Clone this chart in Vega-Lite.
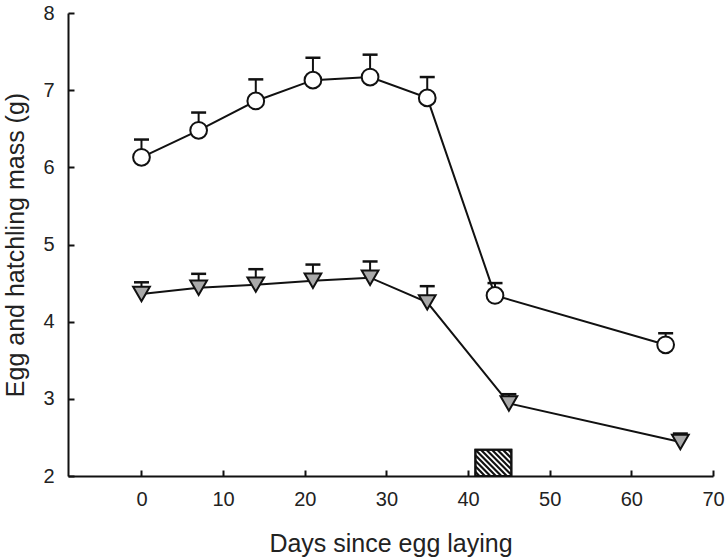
{
  "$schema": "https://vega.github.io/schema/vega-lite/v6.json",
  "width": 645,
  "height": 463,
  "autosize": "none",
  "padding": {"left": 68, "top": 13, "right": 13, "bottom": 84},
  "background": "white",
  "config": {
    "view": {"stroke": null},
    "font": "Liberation Sans",
    "axis": {
      "grid": false,
      "domainColor": "#111111",
      "domainWidth": 2,
      "tickColor": "#111111",
      "tickWidth": 2,
      "tickSize": -6,
      "labelFlush": false,
      "labelFont": "Liberation Sans",
      "labelFontSize": 20,
      "labelColor": "#222222",
      "titleFont": "Liberation Sans",
      "titleFontSize": 25,
      "titleFontWeight": "normal",
      "titleColor": "#222222"
    }
  },
  "datasets": {
    "pts": [
      {"series": "egg", "day": 0, "mass": 6.13, "upper": 6.36},
      {"series": "egg", "day": 7, "mass": 6.48, "upper": 6.71},
      {"series": "egg", "day": 14, "mass": 6.86, "upper": 7.14},
      {"series": "egg", "day": 21, "mass": 7.13, "upper": 7.42},
      {"series": "egg", "day": 28, "mass": 7.17, "upper": 7.46},
      {"series": "egg", "day": 35, "mass": 6.9, "upper": 7.17},
      {"series": "egg", "day": 43.3, "mass": 4.34, "upper": 4.5},
      {"series": "egg", "day": 64.2, "mass": 3.7, "upper": 3.85},
      {"series": "hatchling", "day": 0, "mass": 4.36, "upper": 4.51},
      {"series": "hatchling", "day": 7, "mass": 4.44, "upper": 4.62},
      {"series": "hatchling", "day": 14, "mass": 4.48, "upper": 4.68},
      {"series": "hatchling", "day": 21, "mass": 4.53, "upper": 4.74},
      {"series": "hatchling", "day": 28, "mass": 4.57, "upper": 4.78},
      {"series": "hatchling", "day": 35, "mass": 4.25, "upper": 4.46},
      {"series": "hatchling", "day": 45, "mass": 2.94, "upper": 3.06},
      {"series": "hatchling", "day": 66, "mass": 2.44, "upper": 2.55}
    ],
    "box": [
      {"start": 40.9, "end": 45.3, "low": 2.0, "high": 2.34}
    ],
    "hatch": [
      {"xa": 40.9, "ya": 2.054, "xb": 41.39, "yb": 2.0},
      {"xa": 40.9, "ya": 2.126, "xb": 42.06, "yb": 2.0},
      {"xa": 40.9, "ya": 2.197, "xb": 42.73, "yb": 2.0},
      {"xa": 40.9, "ya": 2.269, "xb": 43.41, "yb": 2.0},
      {"xa": 40.9, "ya": 2.34, "xb": 44.08, "yb": 2.0},
      {"xa": 41.57, "ya": 2.34, "xb": 44.75, "yb": 2.0},
      {"xa": 42.25, "ya": 2.34, "xb": 45.3, "yb": 2.015},
      {"xa": 42.92, "ya": 2.34, "xb": 45.3, "yb": 2.087},
      {"xa": 43.59, "ya": 2.34, "xb": 45.3, "yb": 2.158},
      {"xa": 44.26, "ya": 2.34, "xb": 45.3, "yb": 2.23},
      {"xa": 44.94, "ya": 2.34, "xb": 45.3, "yb": 2.301}
    ]
  },
  "layer": [
    {
      "data": {"name": "box"},
      "mark": {"type": "rect", "fill": "white", "stroke": "#111111", "strokeWidth": 2},
      "encoding": {
        "x": {"field": "start", "type": "quantitative", "scale": {"domain": [-9, 70], "nice": false, "zero": false},
              "axis": {"values": [0, 10, 20, 30, 40, 50, 60, 70], "format": "d", "title": "Days since egg laying", "labelPadding": 19, "titlePadding": 22}},
        "x2": {"field": "end"},
        "y": {"field": "low", "type": "quantitative", "scale": {"domain": [2, 8], "nice": false, "zero": false},
              "axis": {"values": [2, 3, 4, 5, 6, 7, 8], "format": "d", "title": "Egg and hatchling mass (g)", "labelPadding": 20, "titlePadding": 14}},
        "y2": {"field": "high"}
      }
    },
    {
      "data": {"name": "hatch"},
      "mark": {"type": "rule", "stroke": "#111111", "strokeWidth": 2.2},
      "encoding": {
        "x": {"field": "xa", "type": "quantitative"},
        "y": {"field": "ya", "type": "quantitative"},
        "x2": {"field": "xb"},
        "y2": {"field": "yb"}
      }
    },
    {
      "data": {"name": "box"},
      "mark": {"type": "rect", "fill": null, "fillOpacity": 0, "stroke": "#111111", "strokeWidth": 2},
      "encoding": {
        "x": {"field": "start", "type": "quantitative"},
        "x2": {"field": "end"},
        "y": {"field": "low", "type": "quantitative"},
        "y2": {"field": "high"}
      }
    },
    {
      "data": {"name": "pts"},
      "mark": {"type": "line", "stroke": "#111111", "strokeWidth": 2},
      "encoding": {
        "x": {"field": "day", "type": "quantitative"},
        "y": {"field": "mass", "type": "quantitative"},
        "detail": {"field": "series"}
      }
    },
    {
      "data": {"name": "pts"},
      "mark": {"type": "rule", "stroke": "#111111", "strokeWidth": 2},
      "encoding": {
        "x": {"field": "day", "type": "quantitative"},
        "y": {"field": "mass", "type": "quantitative"},
        "y2": {"field": "upper"}
      }
    },
    {
      "data": {"name": "pts"},
      "mark": {"type": "tick", "orient": "horizontal", "color": "#111111", "size": 15, "thickness": 2.5, "opacity": 1},
      "encoding": {
        "x": {"field": "day", "type": "quantitative"},
        "y": {"field": "upper", "type": "quantitative"}
      }
    },
    {
      "data": {"name": "pts"},
      "mark": {"type": "point", "filled": true, "opacity": 1, "stroke": "#111111", "strokeWidth": 2, "size": 280},
      "encoding": {
        "x": {"field": "day", "type": "quantitative"},
        "y": {"field": "mass", "type": "quantitative"},
        "shape": {"field": "series", "type": "nominal", "scale": {"domain": ["egg", "hatchling"], "range": ["circle", "triangle-down"]}, "legend": null},
        "fill": {"field": "series", "type": "nominal", "scale": {"domain": ["egg", "hatchling"], "range": ["#ffffff", "#a9a9a9"]}, "legend": null}
      }
    }
  ]
}
